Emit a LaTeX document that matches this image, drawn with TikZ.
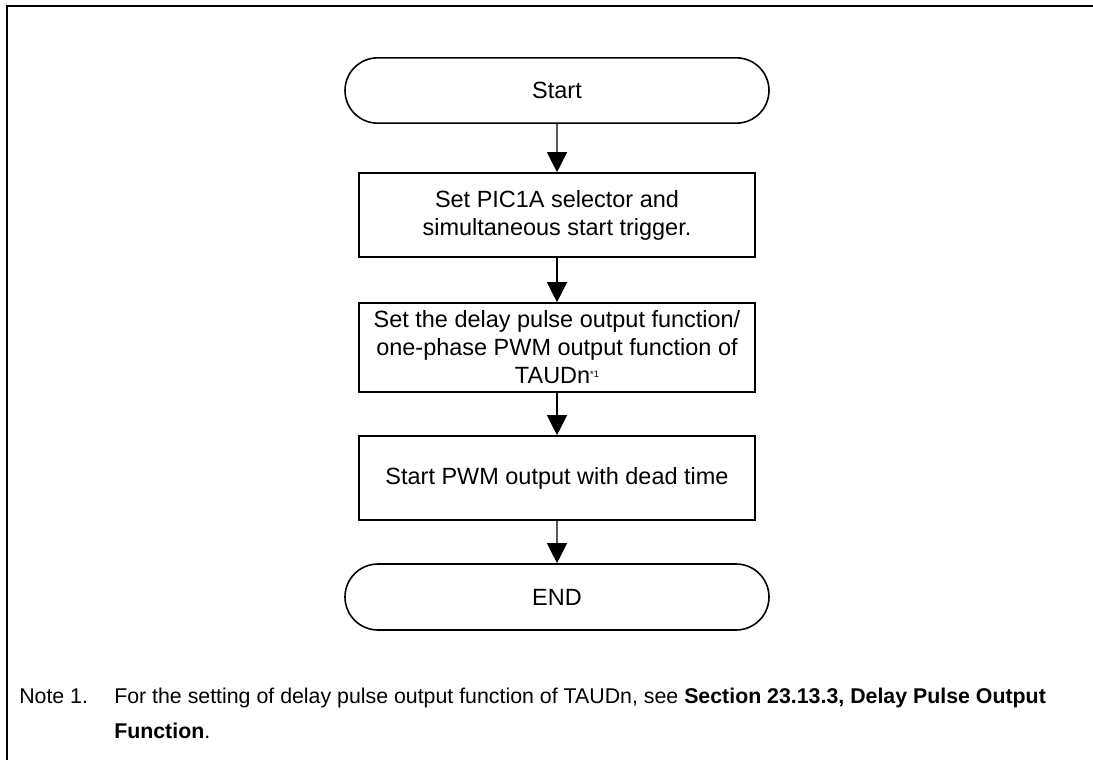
\documentclass[tikz,border=0pt]{standalone}
\usepackage{fontspec}
\setmainfont{Liberation Sans}
\usetikzlibrary{arrows.meta,shapes.misc}
\begin{document}
\begin{tikzpicture}[x=0.75pt,y=-0.75pt,
  every node/.style={font=\fontsize{17.6pt}{21pt}\selectfont},
  term/.style={rounded rectangle, draw, line width=1.2pt, minimum width=318pt, minimum height=49pt, inner sep=0pt},
  proc/.style={rectangle, draw, line width=1.2pt, minimum width=297pt, inner sep=0pt, align=center},
  flow/.style={line width=0.9pt, -{Triangle[width=15pt,length=15pt]}},
  frame/.style={line width=1.7pt},
  notetext/.style={font=\fontsize{16pt}{20pt}\selectfont, inner sep=0pt, anchor=base west}]
\useasboundingbox (0,0) rectangle (1093,760);
\draw[frame] (1093,6) -- (7,6) -- (7,760);
\node[term] (start) at (557,90.5) {Start};
\node[proc, minimum height=63pt] (b1) at (557,215) {Set PIC1A selector and\\simultaneous start trigger.};
\node[proc, minimum height=66.75pt] (b2) at (557,347.5) {Set the delay pulse output function/\\one-phase PWM output function of\\TAUDn\raisebox{0.55ex}{\fontsize{7pt}{7pt}\selectfont *1}};
\node[proc, minimum height=63pt] (b3) at (557,478) {Start PWM output with dead time};
\node[term, minimum height=49.5pt] (end) at (557,597) {END};
\draw[flow] (start) -- (b1);
\draw[flow] (b1) -- (b2);
\draw[flow] (b2) -- (b3);
\draw[flow] (b3) -- (end);
\node[notetext] (n1) at (19,703) {Note 1.};
\node[notetext] (n2) at (114,703) {For the setting of delay pulse output function of TAUDn, see \textbf{Section 23.13.3, Delay Pulse Output}};
\node[notetext] (n3) at (114,738) {\textbf{Function}.};
\end{tikzpicture}
\end{document}
